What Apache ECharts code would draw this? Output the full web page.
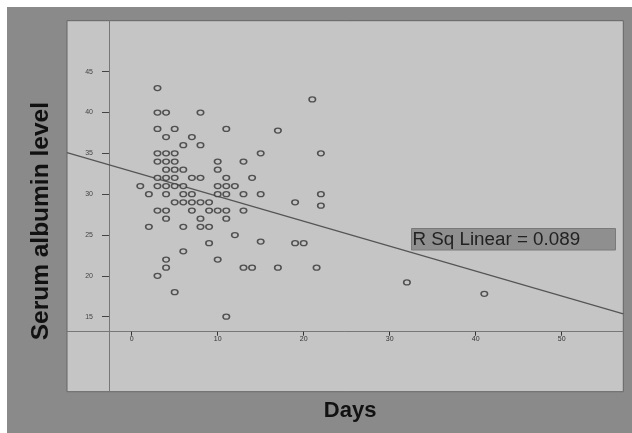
<!DOCTYPE html>
<html>
<head>
<meta charset="utf-8">
<script src="https://cdn.jsdelivr.net/npm/echarts@6/dist/echarts.min.js"></script>
<style>
html,body{margin:0;padding:0;background:#fff;}
#c{position:absolute;left:0;top:0;width:632px;height:433px;
background:linear-gradient(#8a8a8a,#8a8a8a) no-repeat 7px 7px / 625px 426px, #fff;}
</style>
</head>
<body>
<div id="c"></div>
<script>
// Days (x) and serum albumin (y) for each patient
const days = [1,2,2,
 3,3,3,3,3,3,3,3,3,
 4,4,4,4,4,4,4,4,4,4,4,4,
 5,5,5,5,5,5,5,5,
 6,6,6,6,6,6,6,
 7,7,7,7,7,
 8,8,8,8,8,8,
 9,9,9,9,
 10,10,10,10,10,10,
 11,11,11,11,11,11,11,
 12,12,
 13,13,13,13,
 14,14,
 15,15,15,
 17,17,
 19,19,
 20,
 21,21.5,
 22,22,22,
 32,41];
const albumin = [31,30,26,
 43,40,38,35,34,32,31,28,20,
 40,37,35,34,33,32,31,30,28,27,22,21,
 38,35,34,33,32,31,29,18,
 36,33,31,30,29,26,23,
 37,32,30,29,28,
 40,36,32,29,27,26,
 29,28,26,24,
 34,33,31,30,28,22,
 38,32,31,30,28,27,15,
 31,25,
 34,30,28,21,
 32,21,
 35,30,24.2,
 37.8,21,
 29,24,
 24,
 41.6,21,
 35,30,28.6,
 19.2,17.8];
// fitted line end points
const fitX = [-7.52, 57.16];
const fitY = [35.1, 15.35];
const xTicks = [0,10,20,30,40,50];
const yTicks = [15,20,25,30,35,40,45];
const rsqText = 'R Sq Linear = 0.089';

const chart = echarts.init(document.getElementById('c'), null, {renderer:'canvas'});
chart.setOption({
  backgroundColor: 'transparent',
  animation: false,
  grid: {left:67, right:8.7, top:20.7, bottom:41.3, show:true,
         backgroundColor:'#c5c5c5', borderColor:'#666', borderWidth:1},
  xAxis: {
    type:'value', min:-7.52, max:57.16, position:'bottom', offset:-60,
    name:'Days', nameLocation:'middle', nameGap:68,
    nameTextStyle:{fontFamily:'Liberation Sans', fontWeight:'bold', fontSize:22, color:'#111', padding:[0,0,0,10]},
    axisLine:{show:true, onZero:false, lineStyle:{color:'#777', width:1}},
    axisTick:{show:true, length:4, customValues:xTicks, lineStyle:{color:'#333'}},
    axisLabel:{show:true, customValues:xTicks, margin:4, fontSize:7, color:'#333', fontFamily:'Liberation Sans'},
    splitLine:{show:false}
  },
  yAxis: {
    type:'value', min:5.81, max:51.25, position:'left', offset:-42,
    name:'Serum albumin level', nameLocation:'middle', nameGap:55,
    nameTextStyle:{fontFamily:'Liberation Sans', fontWeight:'bold', fontSize:24.5, color:'#111', padding:[0,30,0,0]},
    axisLine:{show:true, onZero:false, lineStyle:{color:'#777', width:1}},
    axisTick:{show:true, length:7, customValues:yTicks, lineStyle:{color:'#444'}},
    axisLabel:{show:true, customValues:yTicks, margin:16, fontSize:7, color:'#444', fontFamily:'Liberation Sans'},
    splitLine:{show:false}
  },
  graphic: [{
    type:'group', left:411, top:228,
    children:[
      {type:'rect', shape:{x:0,y:0,width:204,height:21.5}, style:{fill:'#8f8f8f', stroke:'#7a7a7a', lineWidth:1}},
      {type:'text', x:1, y:11, style:{text:rsqText, fill:'#222', font:'18.8px "Liberation Sans"', textVerticalAlign:'middle'}}
    ]
  }],
  series: [
    {type:'line', data: fitX.map((x,i)=>[x, fitY[i]]), symbol:'none',
     lineStyle:{color:'#555', width:1.2}, z:2},
    {type:'scatter', data: days.map((d,i)=>[d, albumin[i]]), symbol:'circle', symbolSize:[6.5,5],
     itemStyle:{color:'#c5c5c5', borderColor:'#333', borderWidth:1.4}, z:3}
  ]
});
</script>
</body>
</html>
